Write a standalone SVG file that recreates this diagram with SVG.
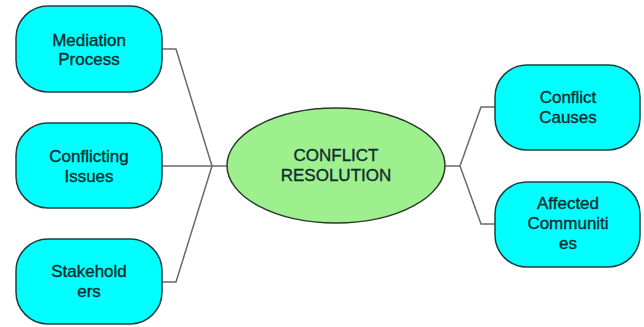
<svg xmlns="http://www.w3.org/2000/svg" width="644" height="327" viewBox="0 0 644 327">
<style>
.node{fill:#00ffff;stroke:#1f3f3f;stroke-width:1.5}
.center{fill:#9ef08e;stroke:#2a3a2a;stroke-width:1.5}
.t{font-family:"Liberation Sans",Arial,sans-serif;font-size:17px;fill:#0e2c2c;stroke:#0e2c2c;stroke-width:0.35;text-anchor:middle}
.c{fill:none;stroke:#6a6a6a;stroke-width:1.5}
</style>
<rect width="644" height="327" fill="#ffffff"/>
<g id="connectors">
<polyline class="c" points="162,49 176,49 212,166"/>
<polyline class="c" points="162,166 227,166"/>
<polyline class="c" points="162,282 176,282 212,166"/>
<polyline class="c" points="445,166 460,166 481,107 496,107"/>
<polyline class="c" points="460,166 481,224 496,224"/>
</g>
<g id="center">
<ellipse class="center" cx="336" cy="165.5" rx="109" ry="57.5"/>
<text class="t" x="336" y="161">CONFLICT</text>
<text class="t" x="336" y="181">RESOLUTION</text>
</g>
<g id="mediation">
<rect class="node" x="16" y="6" width="146" height="86" rx="32"/>
<text class="t" x="89" y="46">Mediation</text>
<text class="t" x="89" y="65">Process</text>
</g>
<g id="issues">
<rect class="node" x="16" y="123" width="146" height="85" rx="32"/>
<text class="t" x="89" y="162">Conflicting</text>
<text class="t" x="89" y="182">Issues</text>
</g>
<g id="stakeholders">
<rect class="node" x="16" y="239" width="146" height="85" rx="32"/>
<text class="t" x="89" y="277">Stakehold</text>
<text class="t" x="89" y="297">ers</text>
</g>
<g id="causes">
<rect class="node" x="495" y="65" width="145" height="85" rx="32"/>
<text class="t" x="568" y="103">Conflict</text>
<text class="t" x="568" y="123">Causes</text>
</g>
<g id="communities">
<rect class="node" x="495" y="182" width="145" height="85" rx="32"/>
<text class="t" x="568" y="209">Affected</text>
<text class="t" x="568" y="229">Communiti</text>
<text class="t" x="568" y="249">es</text>
</g>
</svg>
